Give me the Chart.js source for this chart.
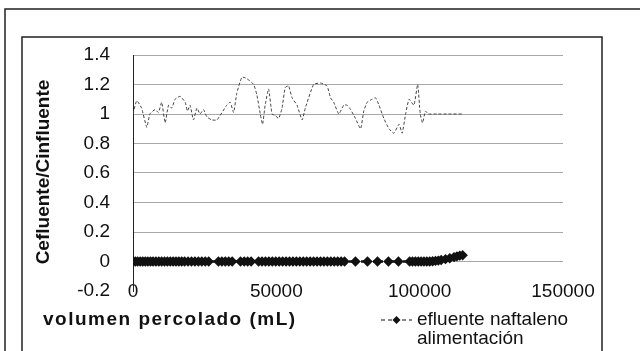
<!DOCTYPE html>
<html>
<head>
<meta charset="utf-8">
<script src="https://cdn.jsdelivr.net/npm/chart.js@4/dist/chart.umd.min.js"></script>
<style>
  body { margin: 0; background: #fff; }
  canvas { display: block; }
</style>
</head>
<body>
<canvas id="lineChart" width="640" height="351"></canvas>
<script>
// data
const naftX = [0, 800, 1600, 2500, 3400, 4300, 5200, 6100, 7000, 8000, 9000, 10000, 11000, 12000,
  13000, 14000, 15000, 16000, 17000, 18000, 19200, 20400, 21600, 22800, 24000, 25200, 26400,
  29800, 31000, 32200, 33400, 34600, 37500, 38800, 40000, 41200, 43800, 45000, 46200, 47400,
  48600, 49800, 51000, 52200, 53400, 54600, 55800, 57000, 58200, 59400, 60600, 61800, 63000,
  64200, 65400, 66600, 67800, 69000, 70200, 71400, 72600, 73800, 77600, 81800, 85300, 89100,
  92600, 96500, 97500, 98500, 99500, 100500, 101500, 102500, 103500, 104500, 105500, 106500,
  107500, 109000, 110500, 112000, 113000, 114000, 115000];
const naftY = [0, 0, 0, 0, 0, 0, 0, 0, 0, 0, 0, 0, 0, 0,
  0, 0, 0, 0, 0, 0, 0, 0, 0, 0, 0, 0, 0,
  0, 0, 0, 0, 0, 0, 0, 0, 0, 0, 0, 0, 0,
  0, 0, 0, 0, 0, 0, 0, 0, 0, 0, 0, 0, 0,
  0, 0, 0, 0, 0, 0, 0, 0, 0, 0, 0, 0, 0,
  0, 0, 0, 0, 0, 0, 0, 0, 0, 0.002, 0.004, 0.006,
  0.01, 0.016, 0.022, 0.03, 0.035, 0.04, 0.042];

const alimX = [0, 1300, 3000, 4800, 5900, 7700, 8900, 10000, 11200, 12400, 13500, 14700, 16400,
  18200, 19000, 19900, 21100, 22300, 23400, 24600, 25800, 27500, 29300, 32700, 33900, 35100,
  36200, 38000, 39700, 42100, 43200, 44400, 45200, 46100, 47300, 48500, 49600, 50800, 52000,
  53100, 54300, 55500, 57200, 59000, 60100, 63000, 65400, 67700, 68900, 70000, 71800, 73500,
  74700, 75900, 77600, 79400, 80500, 81700, 83400, 84600, 85800, 87500, 89300, 91000, 92800,
  93900, 95100, 96300, 98000, 99300, 100200, 101000, 102000, 103000, 106000, 110000, 115000];
const alimY = [1.0, 1.09, 1.04, 0.91, 1.0, 1.03, 1.01, 1.08, 0.94, 1.06, 1.04, 1.1, 1.12,
  1.08, 1.02, 1.06, 0.96, 1.04, 1.0, 1.03, 0.98, 0.96, 0.96, 1.06, 1.08, 1.01,
  1.14, 1.25, 1.24, 1.2, 1.13, 1.0, 0.93, 1.06, 1.17, 1.0, 0.99, 0.97, 1.04,
  1.18, 1.19, 1.11, 1.06, 0.96, 1.04, 1.2, 1.21, 1.19, 1.11, 1.08, 1.0, 1.06,
  1.06, 1.03, 0.97, 0.9, 1.02, 1.08, 1.1, 1.11, 1.06, 0.97, 0.9, 0.87, 0.93,
  0.87, 1.0, 1.1, 1.06, 1.2, 1.0, 0.94, 1.02, 1.0, 1.0, 1.0, 1.0];

const yTicks = ['-0.2', '0', '0.2', '0.4', '0.6', '0.8', '1', '1.2', '1.4'];
const xTicks = ['0', '50000', '100000', '150000'];
const seriesNames = ['efluente naftaleno', 'alimentación'];

const FONT = "'Liberation Sans', Arial, sans-serif";

function pairs(xs, ys) {
    return xs.map((x, i) => ({x: x, y: ys[i]}));
}

// frames, axis titles and the legend, placed like the scan
const decor = {
    id: 'decor',
    afterDraw(chart) {
        const c = chart.ctx;
        c.save();
        c.strokeStyle = '#222';
        c.lineWidth = 1.5;
        c.beginPath();
        c.moveTo(5, 351); c.lineTo(5, 9); c.lineTo(640, 9);
        c.moveTo(22, 351); c.lineTo(22, 37); c.lineTo(602, 37); c.lineTo(602, 351);
        c.stroke();

        c.fillStyle = '#111';
        c.font = 'bold 19px ' + FONT;
        c.textBaseline = 'middle';
        c.textAlign = 'center';
        c.translate(44, 172);
        c.rotate(-Math.PI / 2);
        c.fillText('Cefluente/Cinfluente', 0, 0);
        c.restore();

        c.save();
        c.fillStyle = '#111';
        c.font = 'bold 19px ' + FONT;
        c.textBaseline = 'middle';
        c.textAlign = 'left';
        c.letterSpacing = '1.5px';
        c.fillText('volumen percolado (mL)', 43, 320);
        c.restore();

        // legend
        c.save();
        c.strokeStyle = '#111';
        c.lineWidth = 1.2;
        c.setLineDash([4, 3]);
        c.beginPath();
        c.moveTo(381, 320); c.lineTo(412, 320);
        c.stroke();
        c.setLineDash([]);
        c.fillStyle = '#111';
        c.beginPath();
        c.moveTo(396.5, 316); c.lineTo(400.5, 320); c.lineTo(396.5, 324); c.lineTo(392.5, 320);
        c.closePath();
        c.fill();
        c.font = '19px ' + FONT;
        c.textBaseline = 'middle';
        c.textAlign = 'left';
        c.fillText(seriesNames[0], 417, 320);
        c.fillText(seriesNames[1], 417, 339);
        c.restore();
    }
};

const ctx = document.getElementById('lineChart').getContext('2d');
const chart = new Chart(ctx, {
    type: 'line',
    data: {
        datasets: [{
            label: seriesNames[0],
            data: pairs(naftX, naftY),
            borderColor: '#111',
            backgroundColor: '#111',
            borderWidth: 2.5,
            borderDash: [4, 2],
            pointStyle: 'rectRot',
            pointRadius: 5.2,
            pointBorderWidth: 0,
            tension: 0
        }, {
            label: seriesNames[1],
            data: pairs(alimX, alimY),
            borderColor: '#444',
            borderWidth: 1,
            borderDash: [3, 2],
            pointRadius: 0,
            tension: 0.15
        }]
    },
    options: {
        responsive: false,
        animation: false,
        layout: {
            padding: {left: 73, right: 77, top: 55, bottom: 30}
        },
        scales: {
            x: {
                type: 'linear',
                min: 0,
                max: 150000,
                afterBuildTicks(scale) {
                    scale.ticks = xTicks.map(t => ({value: Number(t)}));
                },
                afterFit(scale) { scale.height = 30; },
                grid: {display: false, drawTicks: false},
                border: {display: false},
                ticks: {
                    mirror: true,
                    padding: -12,
                    color: '#111',
                    font: {family: FONT, size: 19},
                    maxRotation: 0,
                    callback: v => String(v)
                }
            },
            y: {
                min: -0.2,
                max: 1.4,
                afterBuildTicks(scale) {
                    scale.ticks = yTicks.map(t => ({value: Number(t)}));
                },
                afterFit(scale) { scale.width = 60; },
                grid: {
                    drawTicks: false,
                    color: c => (c.tick && c.tick.value < -0.1) ? 'rgba(0,0,0,0)' : '#a8a8a8',
                    lineWidth: 1
                },
                border: {display: true, color: '#222', width: 1},
                ticks: {
                    padding: 23,
                    color: '#111',
                    font: {family: FONT, size: 19},
                    callback: v => String(Math.round(v * 10) / 10)
                }
            }
        },
        plugins: {
            legend: {display: false},
            tooltip: {enabled: false}
        }
    },
    plugins: [decor]
});
</script>
</body>
</html>
